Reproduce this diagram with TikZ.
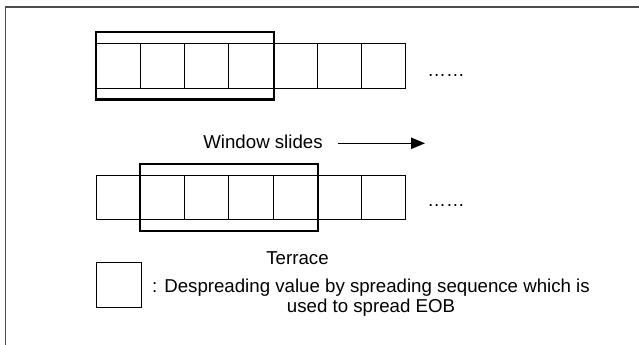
\documentclass[tikz,border=0pt]{standalone}
\usepackage{fontspec}
\setmainfont{Liberation Sans}
\usetikzlibrary{arrows.meta,fit}

\begin{document}
\begin{tikzpicture}[x=0.75pt,y=-0.75pt]
   \tikzset{cell/.style={draw,line width=0.75pt,minimum width=33.1pt,minimum height=33.4pt,inner sep=0pt},
            window/.style={draw,line width=1.6pt,inner xsep=0pt,inner ysep=8.1pt},
            lbl/.style={inner sep=0pt,font=\fontsize{14}{15}\selectfont}};

\useasboundingbox (0,0) rectangle (639,345);
\draw[black!70,line width=1pt] (5.5,345) -- (5.5,7) -- (639,7);

% upper sequence
\node[cell] (t1) at (118.7,66) {};
\node[cell] (t2) at (162.8,66) {};
\node[cell] (t3) at (206.9,66) {};
\node[cell] (t4) at (251.0,66) {};
\node[cell] (t5) at (295.1,66) {};
\node[cell] (t6) at (339.2,66) {};
\node[cell] (t7) at (383.3,66) {};
\node[window,fit=(t1)(t4)] (tw) {};
\node[lbl,anchor=base] (tdots) at (446,76.5) {……};

\node[lbl] (slide) at (263,141.7) {Window slides};
\coordinate (s1) at (338,143.3);
\coordinate (s2) at (425,143.3);
\draw[-{Triangle[length=10.5pt,width=8.5pt]},line width=1.1pt] (s1) -- (s2);

% lower sequence
\node[cell] (b1) at (118.7,197.7) {};
\node[cell] (b2) at (162.8,197.7) {};
\node[cell] (b3) at (206.9,197.7) {};
\node[cell] (b4) at (251.0,197.7) {};
\node[cell] (b5) at (295.1,197.7) {};
\node[cell] (b6) at (339.2,197.7) {};
\node[cell] (b7) at (383.3,197.7) {};
\node[window,fit=(b2)(b5)] (bw) {};
\node[lbl,anchor=base] (bdots) at (446,206.5) {……};

\node[lbl] (terrace) at (297.5,258.3) {Terrace};

% legend
\node[cell] (key) at (119,284.8) {};
\node[lbl,align=center,anchor=north] (keytext) at (371,279) {: Despreading value by spreading sequence which is\\used to spread EOB};

\end{tikzpicture}
\end{document}
